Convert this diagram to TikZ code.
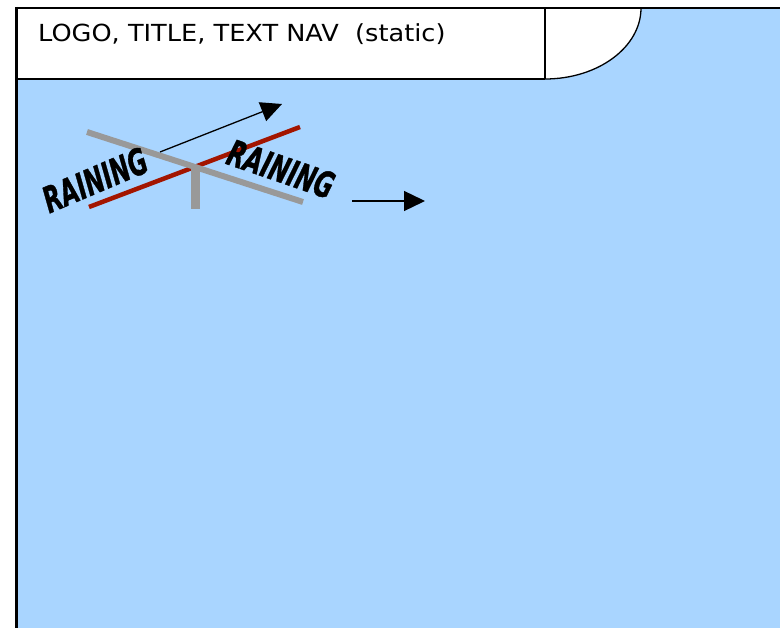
\documentclass[tikz,border=0pt]{standalone}
\usepackage{fontspec}
\setmainfont{DejaVu Sans}
\newfontfamily\rainfont[FakeBold=1.2]{DejaVu Sans}
\usetikzlibrary{arrows.meta}
\definecolor{skyfill}{HTML}{A9D5FF}
\definecolor{bargray}{HTML}{999999}
\definecolor{barred}{HTML}{A31500}
\tikzset{
  frameline/.style={draw=black, line width=1.3pt},
  redbar/.style={line width=4.5pt, draw=barred},
  graybar/.style={line width=6pt, draw=bargray},
  raintext/.style={inner sep=0pt, font=\fontsize{36}{36}\rainfont\bfseries\itshape},
  bigarrow/.style={line width=1.3pt, -{Triangle[length=21pt,width=20pt]}},
}
\begin{document}
\begin{tikzpicture}[x=1pt,y=-1pt]
\useasboundingbox (0,0) rectangle (780,628);
% blue area
\fill[skyfill] (16,8) rectangle (780,628);
% white header with curved end
\fill[white] (16,8) -- (641,8) arc[start angle=0,end angle=90,x radius=96,y radius=71] -- (16,79) -- cycle;
% frame lines
\draw[frameline] (16,8) -- (641,8);
\draw[draw=black, line width=2.4pt] (641,8) -- (780,8);
\draw[draw=black, line width=2.2pt] (16.5,7) -- (16.5,628);
\draw[frameline] (16,79) -- (545,79);
\draw[frameline] (545,8) -- (545,79);
\draw[frameline] (641,8) arc[start angle=0,end angle=90,x radius=96,y radius=71];
% header text
\node[anchor=base west, inner sep=0pt, font=\fontsize{23.5}{23.5}\selectfont] (title) at (38,42) {\scalebox{1.09}[1]{LOGO, TITLE, TEXT NAV\ \ (static)}};
% seesaw
\coordinate (redA) at (89,207);
\coordinate (redB) at (300,127);
\coordinate (grayA) at (87,132);
\coordinate (grayB) at (303,202);
\coordinate (stemT) at (195,167);
\coordinate (stemB) at (195,209);
\draw[redbar] (redA) -- (redB);
\draw[graybar] (grayA) -- (grayB);
\draw[bargray, line width=9pt] (stemT) -- (stemB);
% arrows
\coordinate (arrAs) at (160,152);
\coordinate (arrAe) at (282,104);
\coordinate (arrBs) at (352,201);
\coordinate (arrBe) at (425,201);
\draw[bigarrow] (arrAs) -- (arrAe);
\draw[bigarrow] (arrBs) -- (arrBe);
% texts
\node[raintext, rotate=23] (rainL) at (95,180) {\scalebox{0.64}[1]{RAINING}};
\node[raintext, rotate=-19] (rainR) at (281,169) {\scalebox{0.64}[1]{RAINING}};
\end{tikzpicture}
\end{document}
